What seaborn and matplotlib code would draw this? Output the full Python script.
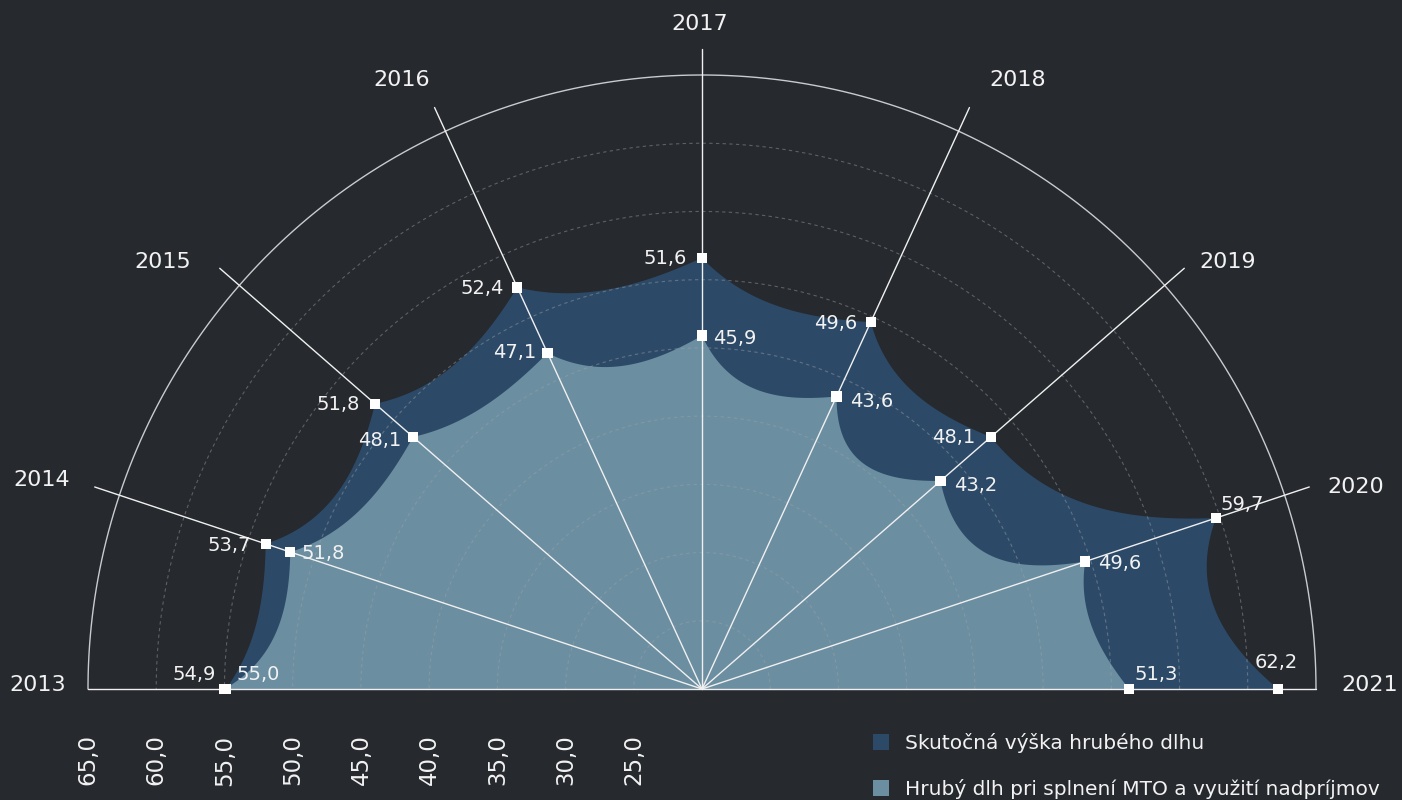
import numpy as np
import matplotlib
matplotlib.use("Agg")
import matplotlib.pyplot as plt
import seaborn as sns
from matplotlib.patches import Patch

# ---------------- data ----------------
years = ["2013", "2014", "2015", "2016", "2017", "2018", "2019", "2020", "2021"]
actual_debt = [54.9, 53.7, 51.8, 52.4, 51.6, 49.6, 48.1, 59.7, 62.2]
mto_debt = [55.0, 51.8, 48.1, 47.1, 45.9, 43.6, 43.2, 49.6, 51.3]
radial_ticks = [65, 60, 55, 50, 45, 40, 35, 30, 25]
series_names = ["Skutočná výška hrubého dlhu",
                "Hrubý dlh pri splnení MTO a využití nadpríjmov"]

# ---------------- layout / style ----------------
BG = "#26292e"
DARK = "#2c4a67"
LIGHT = "#6b8ea1"
TXT = "#f2f2f2"
R0, RMAX = 20, 67.5
PX_PER_UNIT = 614 / 45.0
CX, CY = 702, 689
W, H = 1402, 800
THETA_DEG = [180, 161.6, 138.9, 114.7, 90, 65.3, 41.1, 18.4, 0]
SPOKE_END = R0 + 640 / PX_PER_UNIT
DARK_CURVE = [0.08, 0.14, 0.108, 0.087, 0.10, 0.126, 0.127, 0.175]
LIGHT_CURVE = [0.144, 0.10, 0.073, 0.135, 0.18, 0.26, 0.245, 0.11]
DARK_LBL_OFF = [(-32, -15), (-37, 2), (-37, 1), (-35, 1), (-37, 1), (-35, 1), (-37, 1), (26, -14), (-2, -26)]
LIGHT_LBL_OFF = [(34, -15), (33, 1), (-33, 4), (-33, -1), (33, 3), (35, 5), (35, 5), (34, 2), (27, -14)]
YEAR_XY = [(38, 685), (42, 480), (163, 262), (402, 80), (700, 24), (1018, 80),
           (1228, 262), (1356, 487), (1370, 685)]

sns.set_theme(style="white", rc={"figure.facecolor": BG, "axes.facecolor": BG,
                                 "savefig.facecolor": BG})
plt.rcParams["font.family"] = ["DejaVu Sans"]

fig = plt.figure(figsize=(W / 100, H / 100), dpi=100)
rad_px = (RMAX - R0) * PX_PER_UNIT
ax = fig.add_axes([(CX - rad_px) / W, (H - CY - rad_px) / H, 2 * rad_px / W, 2 * rad_px / H],
                  projection="polar")
ax.set_rlim(R0, RMAX)
ax.grid(False)
ax.set_xticks([])
ax.set_yticks([])
ax.spines["polar"].set_visible(False)
ax.patch.set_visible(False)

theta = np.deg2rad(THETA_DEG)


def outline(values, ratios, asym=0.2, n=50):
    rr = np.asarray(values, dtype=float) - R0
    P = np.column_stack([rr * np.cos(theta), rr * np.sin(theta)])
    pts = [P[0]]
    t = np.linspace(0, 1, n)[1:]
    for i in range(len(P) - 1):
        p0, p3 = P[i], P[i + 1]
        d = p3 - p0
        L = np.hypot(*d)
        nrm = np.array([d[1], -d[0]]) / L
        if np.dot(nrm, -(p0 + p3) / 2) < 0:
            nrm = -nrm
        c = ratios[i] * L / 0.75
        d1, d2 = c * (1 + asym), c * (1 - asym)
        off = 3 * (1 - t) ** 2 * t * d1 + 3 * (1 - t) * t ** 2 * d2
        pts.extend(p0 + np.outer(t, d) + np.outer(off, nrm))
    pts = np.array(pts)
    th = np.arctan2(pts[:, 1], pts[:, 0])
    th = np.where(th < -np.pi / 2, th + 2 * np.pi, th)
    r = R0 + np.hypot(pts[:, 0], pts[:, 1])
    return np.append(th, 0.0), np.append(r, R0)


for vals, ratios, col, z in [(actual_debt, DARK_CURVE, DARK, 1), (mto_debt, LIGHT_CURVE, LIGHT, 2)]:
    th_c, r_c = outline(vals, ratios)
    ax.fill(th_c, r_c, color=col, lw=0, zorder=z)

# grid circles
tt = np.linspace(0, np.pi, 400)
for v in radial_ticks[1:]:
    ax.plot(tt, np.full_like(tt, v), color="#a0a3a8", lw=0.8, ls=(0, (3, 3)), alpha=0.45, zorder=3)
ax.plot(tt, np.full_like(tt, radial_ticks[0]), color="#c9cbce", lw=1.0, zorder=3)

# spokes
for i, th in enumerate(theta):
    rend = radial_ticks[0] if i in (0, len(theta) - 1) else SPOKE_END
    ax.plot([th, th], [R0, rend], color="#f0f0f0", lw=1.0, zorder=4)

# markers
sns.scatterplot(x=np.concatenate([theta, theta]), y=np.concatenate([actual_debt, mto_debt]),
                marker="s", s=55, color="white", edgecolor="none", linewidth=0,
                zorder=6, legend=False, ax=ax)


def fmt(v):
    return f"{v:.1f}".replace(".", ",")


for vals, offs in [(actual_debt, DARK_LBL_OFF), (mto_debt, LIGHT_LBL_OFF)]:
    for th, v, (dx, dy) in zip(theta, vals, offs):
        ax.annotate(fmt(v), xy=(th, v), xytext=(dx * 0.72, -dy * 0.72), textcoords="offset points",
                    ha="center", va="center", fontsize=14, color=TXT, zorder=7)

# radial axis labels
for v in radial_ticks:
    ax.annotate(fmt(v), xy=(np.pi, v), xytext=(0, -71 * 0.72), textcoords="offset points",
                ha="center", va="center", rotation=90, fontsize=16.5, color=TXT)

# year labels
for y, (x, yy) in zip(years, YEAR_XY):
    fig.text(x / W, 1 - yy / H, y, ha="center", va="center", fontsize=16, color=TXT)

handles = [Patch(facecolor=DARK, edgecolor="none"), Patch(facecolor=LIGHT, edgecolor="none")]
fig.legend(handles, series_names, loc="upper left", bbox_to_anchor=(873 / W, 1 - 733 / H),
           frameon=False, fontsize=14.5, handlelength=0.8, handleheight=0.8, handletextpad=0.8,
           labelspacing=1.3, borderpad=0, borderaxespad=0, labelcolor=TXT)

fig.savefig("out.png", dpi=100, facecolor=BG)
